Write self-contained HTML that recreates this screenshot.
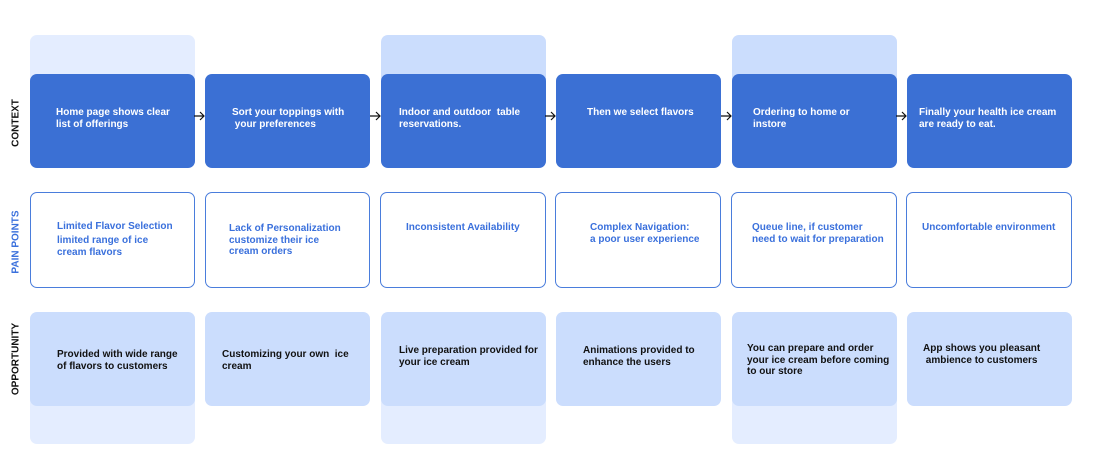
<!DOCTYPE html>
<html><head><style>
body{margin:0;width:1101px;height:465px;background:#fff;position:relative;overflow:hidden;font-family:"Liberation Sans",sans-serif;}
.b{position:absolute;box-sizing:border-box;border-radius:7px;}
.bgl{background:#e4edff;}
.bgd{background:#cbddfd;}
.ctx{background:#3b70d4;}
.pain{background:#fff;border:1.5px solid #4a7ddc;}
.opp{background:#cbddfd;}
.t{position:absolute;font-size:10px;font-weight:bold;line-height:11.7px;white-space:nowrap;margin-top:2px;}
.w{color:#fff}.bl{color:#3a70dc}.k{color:#111}
.side{position:absolute;font-size:10px;font-weight:bold;transform:translate(-50%,-50%) rotate(-90deg);white-space:nowrap;}
.ar{position:absolute;top:111px;width:11px;height:10px;}
</style></head><body>
<div class="b bgl" style="left:30px;top:35px;width:165px;height:60px"></div>
<div class="b bgd" style="left:381px;top:35px;width:165px;height:60px"></div>
<div class="b bgd" style="left:732px;top:35px;width:165px;height:60px"></div>
<div class="b bgl" style="left:30px;top:385px;width:165px;height:59px"></div>
<div class="b bgl" style="left:381px;top:385px;width:165px;height:59px"></div>
<div class="b bgl" style="left:732px;top:385px;width:165px;height:59px"></div>

<div class="b ctx" style="left:30px;top:74px;width:165px;height:94px"></div>
<div class="b ctx" style="left:205px;top:74px;width:165px;height:94px"></div>
<div class="b ctx" style="left:381px;top:74px;width:165px;height:94px"></div>
<div class="b ctx" style="left:556px;top:74px;width:165px;height:94px"></div>
<div class="b ctx" style="left:732px;top:74px;width:165px;height:94px"></div>
<div class="b ctx" style="left:907px;top:74px;width:165px;height:94px"></div>

<div class="b pain" style="left:30px;top:192px;width:165px;height:96px"></div>
<div class="b pain" style="left:205px;top:192px;width:165px;height:96px"></div>
<div class="b pain" style="left:380px;top:192px;width:166px;height:96px"></div>
<div class="b pain" style="left:555px;top:192px;width:166px;height:96px"></div>
<div class="b pain" style="left:731px;top:192px;width:166px;height:96px"></div>
<div class="b pain" style="left:906px;top:192px;width:166px;height:96px"></div>

<div class="b opp" style="left:30px;top:312px;width:165px;height:94px"></div>
<div class="b opp" style="left:205px;top:312px;width:165px;height:94px"></div>
<div class="b opp" style="left:381px;top:312px;width:165px;height:94px"></div>
<div class="b opp" style="left:556px;top:312px;width:165px;height:94px"></div>
<div class="b opp" style="left:732px;top:312px;width:165px;height:94px"></div>
<div class="b opp" style="left:907px;top:312px;width:165px;height:94px"></div>

<svg class="ar" style="left:194px" viewBox="0 0 11 10"><path d="M0 5H10M6 1L10 5L6 9" stroke="#111" fill="none" stroke-width="1.2"/></svg>
<svg class="ar" style="left:370px" viewBox="0 0 11 10"><path d="M0 5H10M6 1L10 5L6 9" stroke="#111" fill="none" stroke-width="1.2"/></svg>
<svg class="ar" style="left:545px" viewBox="0 0 11 10"><path d="M0 5H10M6 1L10 5L6 9" stroke="#111" fill="none" stroke-width="1.2"/></svg>
<svg class="ar" style="left:721px" viewBox="0 0 11 10"><path d="M0 5H10M6 1L10 5L6 9" stroke="#111" fill="none" stroke-width="1.2"/></svg>
<svg class="ar" style="left:896px" viewBox="0 0 11 10"><path d="M0 5H10M6 1L10 5L6 9" stroke="#111" fill="none" stroke-width="1.2"/></svg>

<div class="t w" style="left:56px;top:105px">Home page shows clear<br>list of offerings</div>
<div class="t w" style="left:232px;top:105px">Sort your toppings with<br>&nbsp;your preferences</div>
<div class="t w" style="left:399px;top:105px">Indoor and outdoor&nbsp; table<br>reservations.</div>
<div class="t w" style="left:587px;top:105px">Then we select flavors</div>
<div class="t w" style="left:753px;top:105px">Ordering to home or<br>instore</div>
<div class="t w" style="left:919px;top:105px">Finally your health ice cream<br>are ready to eat.</div>

<div class="t bl" style="left:57px;top:218px;line-height:14px">Limited Flavor Selection</div>
<div class="t bl" style="left:57px;top:233px">limited range of ice<br>cream flavors</div>
<div class="t bl" style="left:229px;top:221px">Lack of Personalization<br>customize their ice<br>cream orders</div>
<div class="t bl" style="left:406px;top:220px">Inconsistent Availability</div>
<div class="t bl" style="left:590px;top:220px">Complex Navigation:<br>a poor user experience</div>
<div class="t bl" style="left:752px;top:220px">Queue line, if customer<br>need to wait for preparation</div>
<div class="t bl" style="left:922px;top:220px">Uncomfortable environment</div>

<div class="t k" style="left:57px;top:347px">Provided with wide range<br>of flavors to customers</div>
<div class="t k" style="left:222px;top:347px">Customizing your own&nbsp; ice<br>cream</div>
<div class="t k" style="left:399px;top:343px">Live preparation provided for<br>your ice cream</div>
<div class="t k" style="left:583px;top:343px">Animations provided to<br>enhance the users</div>
<div class="t k" style="left:747px;top:341px">You can prepare and order<br>your ice cream before coming<br>to our store</div>
<div class="t k" style="left:923px;top:341px">App shows you pleasant<br>&nbsp;ambience to customers</div>

<div class="side" style="left:16px;top:123px;color:#111">CONTEXT</div>
<div class="side" style="left:16px;top:242px;color:#3a70dc">PAIN POINTS</div>
<div class="side" style="left:16px;top:359px;color:#111">OPPORTUNITY</div>
</body></html>
